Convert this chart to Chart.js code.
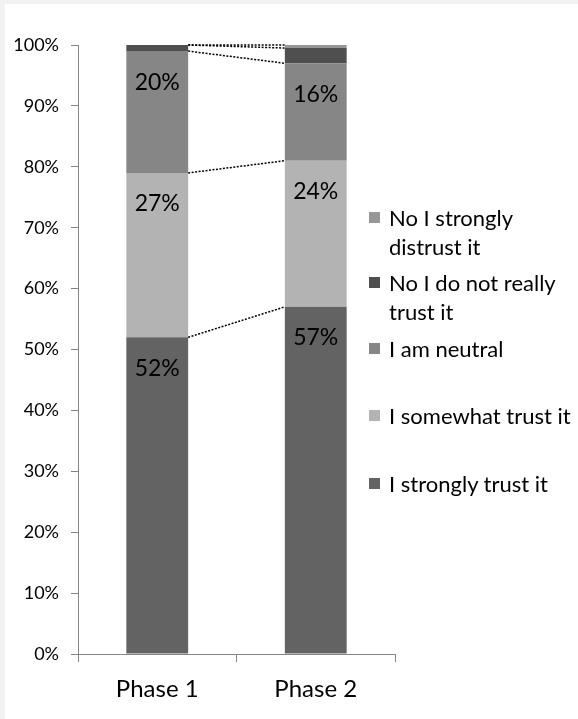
<!DOCTYPE html>
<html>
<head>
<meta charset="utf-8">
<script src="https://cdn.jsdelivr.net/npm/chart.js"></script>
<style>
  html, body { margin: 0; padding: 0; }
  body {
    width: 578px; height: 719px; position: relative; overflow: hidden;
    background: #f2f2f2; font-family: Lato, "Open Sans", sans-serif;
  }
  #panel { position: absolute; left: 5px; top: 4px; right: 0; bottom: 0; background: #fff; }
  #trustChart { position: absolute; left: 0; top: 0; }
  #legend { position: absolute; left: 369px; top: 0; }
  .item {
    position: absolute; left: 0; display: flex; align-items: flex-start;
    font-size: 22px; line-height: 29px; color: #000; white-space: pre;
  }
  .swatch { width: 11px; height: 11px; margin: 9px 9px 0 0; flex: none; }
</style>
</head>
<body>
<div id="panel"></div>
<canvas id="trustChart" width="578" height="719"></canvas>
<div id="legend"></div>

<script>
  // categories and answers (bottom of the stack first)
  const categories = ['Phase 1', 'Phase 2'];
  const seriesLabels = ['I strongly trust it', 'I somewhat trust it', 'I am neutral',
                        'No I do not really\ntrust it', 'No I strongly\ndistrust it'];

  // share of answers per phase, in %
  const stronglyTrust    = [52, 57];
  const somewhatTrust    = [27, 24];
  const neutral          = [20, 16];
  const notReallyTrust   = [1, 2.5];
  const stronglyDistrust = [0, 0.5];

  const seriesValues = [stronglyTrust, somewhatTrust, neutral, notReallyTrust, stronglyDistrust];
  const seriesColors = ['#636363', '#b3b3b3', '#868686', '#4f4f4f', '#979797'];

  // vertical position of each legend entry (top of its first line)
  const legendTops = [469, 401, 334, 268, 203];

  Chart.defaults.font.family = 'Lato, "Open Sans", sans-serif';
  Chart.defaults.color = '#000';

  // dotted lines joining the top of each segment from one bar to the next
  const seriesLines = {
    id: 'seriesLines',
    beforeDatasetsDraw(chart) {
      const ctx = chart.ctx;
      ctx.save();
      ctx.strokeStyle = '#000';
      ctx.lineWidth = 1.5;
      ctx.setLineDash([2, 1.5]);
      chart.data.datasets.forEach((ds, i) => {
        const bars = chart.getDatasetMeta(i).data;
        for (let j = 0; j < bars.length - 1; j++) {
          const a = bars[j], b = bars[j + 1];
          ctx.beginPath();
          ctx.moveTo(a.x + a.width / 2, a.y);
          ctx.lineTo(b.x - b.width / 2, b.y);
          ctx.stroke();
        }
      });
      ctx.restore();
    }
  };

  // percentage written near the top of the bigger segments
  const segmentLabels = {
    id: 'segmentLabels',
    afterDatasetsDraw(chart) {
      const ctx = chart.ctx;
      ctx.save();
      ctx.font = '23px Lato, "Open Sans", sans-serif';
      ctx.fillStyle = '#000';
      ctx.textAlign = 'center';
      ctx.textBaseline = 'middle';
      chart.data.datasets.forEach((ds, i) => {
        chart.getDatasetMeta(i).data.forEach((bar, j) => {
          const v = ds.data[j];
          if (v < 5) return;
          ctx.fillText(Math.round(v) + '%', bar.x, bar.y + 31);
        });
      });
      ctx.restore();
    }
  };

  const ctx = document.getElementById('trustChart');

  new Chart(ctx, {
    type: 'bar',
    data: {
      labels: categories,
      datasets: seriesValues.map((values, i) => ({
        label: seriesLabels[i],
        data: values,
        backgroundColor: seriesColors[i],
        borderWidth: 0,
        categoryPercentage: 1,
        barPercentage: 0.39
      }))
    },
    options: {
      responsive: false,
      animation: false,
      devicePixelRatio: 1,
      layout: { padding: { top: 45, right: 183, left: 0, bottom: 0 } },
      plugins: {
        legend: { display: false },
        tooltip: { enabled: false }
      },
      scales: {
        x: {
          stacked: true,
          offset: true,
          grid: { drawOnChartArea: false, offset: true, tickLength: 8, color: '#868686' },
          border: { color: '#868686', width: 1 },
          ticks: { font: { size: 24 }, padding: 13 },
          afterFit(scale) { scale.height = 65; }
        },
        y: {
          stacked: true,
          min: 0,
          max: 100,
          grid: { drawOnChartArea: false, tickLength: 7, color: '#868686' },
          border: { color: '#868686', width: 1 },
          ticks: {
            stepSize: 10,
            font: { size: 18 },
            padding: 12,
            callback: v => v + '%'
          },
          afterFit(scale) { scale.width = 78; }
        }
      }
    },
    plugins: [seriesLines, segmentLabels]
  });

  // legend on the right, top of the stack listed first
  const legend = document.getElementById('legend');
  for (let i = seriesLabels.length - 1; i >= 0; i--) {
    const item = document.createElement('div');
    item.className = 'item';
    item.style.top = legendTops[i] + 'px';
    const sw = document.createElement('span');
    sw.className = 'swatch';
    sw.style.background = seriesColors[i];
    const txt = document.createElement('span');
    txt.textContent = seriesLabels[i];
    item.appendChild(sw);
    item.appendChild(txt);
    legend.appendChild(item);
  }
</script>
</body>
</html>
